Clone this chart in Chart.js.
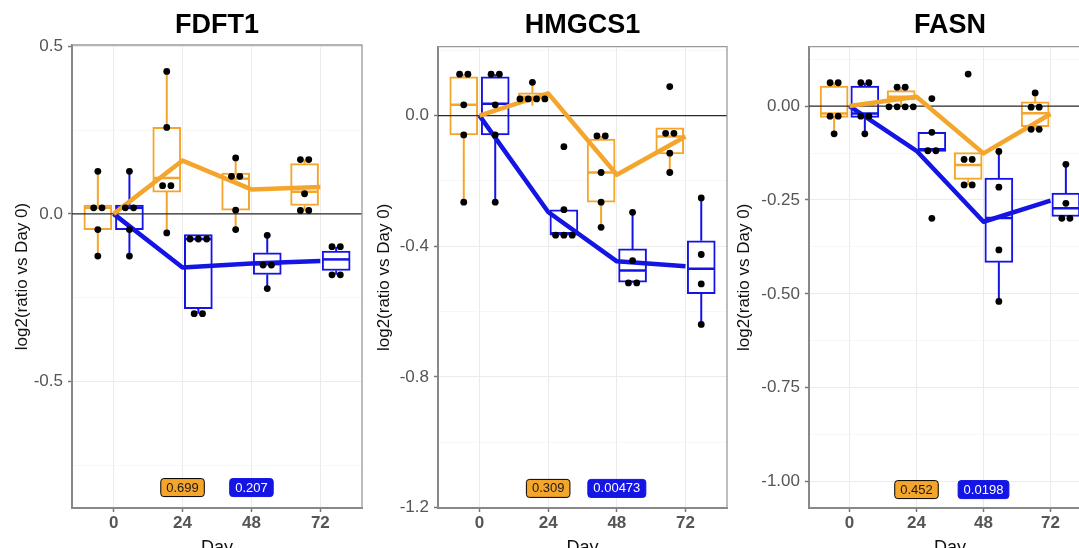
<!DOCTYPE html>
<html>
<head>
<meta charset="utf-8">
<script src="https://cdn.jsdelivr.net/npm/chart.js@4.4.1/dist/chart.umd.min.js"></script>
<style>
html, body { margin: 0; padding: 0; background: #ffffff; overflow: hidden; width: 1079px; height: 548px; }
.panel { position: absolute; top: 0; }
canvas { display: block; }
</style>
</head>
<body>
<div class="panel" style="left:0px"><canvas id="c1" width="366" height="570"></canvas></div>
<div class="panel" style="left:362px"><canvas id="c2" width="369" height="570"></canvas></div>
<div class="panel" style="left:722px"><canvas id="c3" width="373" height="570"></canvas></div>
<script>
// ---------------- data ----------------
const days = [0, 24, 48, 72];
const dayTickLabels = ['0', '24', '48', '72'];
const geneTitles = ['FDFT1', 'HMGCS1', 'FASN'];
const yAxisTitle = 'log2(ratio vs Day 0)';
const xAxisTitle = 'Day';
const pLabelDays = [24, 48];

// box statistics per day: [lower whisker, Q1, median, Q3, upper whisker]
const fdft1OrangeBox = [[-0.126, -0.047, 0.018, 0.026, 0.127], [-0.057, 0.065, 0.107, 0.258, 0.425], [-0.047, 0.011, 0.105, 0.122, 0.167], [0.010, 0.025, 0.066, 0.150, 0.162]];
const fdft1BlueBox   = [[-0.126, -0.047, 0.018, 0.026, 0.127], [-0.298, -0.283, -0.075, -0.062, -0.062], [-0.223, -0.181, -0.150, -0.116, -0.064], [-0.182, -0.169, -0.136, -0.111, -0.098]];
const fdft1OrangeMean = [0, 0.159, 0.073, 0.080];
const fdft1BlueMean   = [0, -0.160, -0.148, -0.141];
const fdft1OrangeDots = [[0.127, 0.018, 0.018, -0.047, -0.126], [0.425, 0.258, 0.084, 0.084, -0.057], [0.167, 0.112, 0.112, 0.011, -0.047], [0.162, 0.162, 0.060, 0.010, 0.010]];
const fdft1BlueDots   = [[0.127, 0.018, 0.018, -0.047, -0.126], [-0.075, -0.075, -0.075, -0.298, -0.298], [-0.064, -0.153, -0.153, -0.223], [-0.098, -0.098, -0.182, -0.182]];
const fdft1PValues = ['0.699', '0.207'];
const fdft1PLabelY = -0.817;
const fdft1YTicks = [0.5, 0.25, 0, -0.25, -0.5, -0.75];
const fdft1YTickLabels = ['0.5', '', '0.0', '', '-0.5', ''];
const fdft1YRange = [-0.878, 0.504];

const hmgcs1OrangeBox = [[-0.265, -0.059, 0.033, 0.119, 0.127], [0.030, 0.051, 0.058, 0.070, 0.102], [-0.342, -0.265, -0.174, -0.072, -0.062], [-0.174, -0.117, -0.064, -0.037, -0.037]];
const hmgcs1BlueBox   = [[-0.265, -0.059, 0.036, 0.119, 0.127], [-0.366, -0.366, -0.360, -0.288, -0.288], [-0.512, -0.510, -0.474, -0.408, -0.296], [-0.639, -0.545, -0.469, -0.383, -0.252]];
const hmgcs1OrangeMean = [0, 0.068, -0.181, -0.064];
const hmgcs1BlueMean   = [0, -0.295, -0.446, -0.461];
const hmgcs1OrangeDots = [[0.127, 0.127, 0.033, -0.059, -0.265], [0.102, 0.051, 0.051, 0.051, 0.051], [-0.062, -0.062, -0.174, -0.265, -0.342], [0.089, -0.054, -0.054, -0.115, -0.174]];
const hmgcs1BlueDots   = [[0.127, 0.127, 0.033, -0.059, -0.265], [-0.095, -0.288, -0.366, -0.366, -0.366], [-0.296, -0.444, -0.512, -0.512], [-0.252, -0.425, -0.515, -0.639]];
const hmgcs1PValues = ['0.309', '0.00473'];
const hmgcs1PLabelY = -1.141;
const hmgcs1YTicks = [0.2, 0, -0.2, -0.4, -0.6, -0.8, -1.0, -1.2];
const hmgcs1YTickLabels = ['', '0.0', '', '-0.4', '', '-0.8', '', '-1.2'];
const hmgcs1YRange = [-1.201, 0.211];

const fasnOrangeBox = [[-0.074, -0.030, -0.020, 0.053, 0.062], [-0.002, 0.016, 0.025, 0.041, 0.050], [-0.210, -0.195, -0.157, -0.124, -0.124], [-0.062, -0.055, -0.019, 0.011, 0.035]];
const fasnBlueBox   = [[-0.074, -0.030, -0.020, 0.053, 0.062], [-0.121, -0.121, -0.115, -0.070, -0.070], [-0.520, -0.416, -0.298, -0.192, -0.121], [-0.294, -0.294, -0.272, -0.232, -0.155]];
const fasnOrangeMean = [0, 0.025, -0.126, -0.021];
const fasnBlueMean   = [0, -0.119, -0.308, -0.252];
const fasnOrangeDots = [[0.062, 0.062, -0.027, -0.027, -0.074], [0.050, 0.050, -0.002, -0.002, -0.002, -0.002], [0.085, -0.142, -0.142, -0.210, -0.210], [0.035, -0.003, -0.003, -0.062, -0.062]];
const fasnBlueDots   = [[0.062, 0.062, -0.027, -0.027, -0.074], [0.020, -0.070, -0.119, -0.119, -0.299], [-0.121, -0.216, -0.383, -0.520], [-0.155, -0.259, -0.299, -0.299]];
const fasnPValues = ['0.452', '0.0198'];
const fasnPLabelY = -1.021;
const fasnYTicks = [0.125, 0, -0.125, -0.25, -0.375, -0.5, -0.625, -0.75, -0.875, -1.0];
const fasnYTickLabels = ['', '0.00', '', '-0.25', '', '-0.50', '', '-0.75', '', '-1.00'];
const fasnYRange = [-1.07, 0.158];

// ---------------- styling / layout ----------------
Chart.defaults.font.family = "'Liberation Sans', Arial, Helvetica, sans-serif";
const ORANGE = '#F4A52B';
const BLUE = '#1414E4';
const X_RANGE = [-14.5, 86.5];
const DODGE = 5.5;
const DOT_STEP = 2.9;
const CANVAS_H = 570;
const CHART_BOTTOM = 508;

const panels = [
  { id: 'c1', title: geneTitles[0], oBox: fdft1OrangeBox, bBox: fdft1BlueBox, oMean: fdft1OrangeMean, bMean: fdft1BlueMean,
    oDots: fdft1OrangeDots, bDots: fdft1BlueDots, pValues: fdft1PValues, pY: fdft1PLabelY,
    yTicks: fdft1YTicks, yLabels: fdft1YTickLabels, yRange: fdft1YRange, yAxisWidth: 72, chartTop: 45 },
  { id: 'c2', title: geneTitles[1], oBox: hmgcs1OrangeBox, bBox: hmgcs1BlueBox, oMean: hmgcs1OrangeMean, bMean: hmgcs1BlueMean,
    oDots: hmgcs1OrangeDots, bDots: hmgcs1BlueDots, pValues: hmgcs1PValues, pY: hmgcs1PLabelY,
    yTicks: hmgcs1YTicks, yLabels: hmgcs1YTickLabels, yRange: hmgcs1YRange, yAxisWidth: 76, chartTop: 46.7 },
  { id: 'c3', title: geneTitles[2], oBox: fasnOrangeBox, bBox: fasnBlueBox, oMean: fasnOrangeMean, bMean: fasnBlueMean,
    oDots: fasnOrangeDots, bDots: fasnBlueDots, pValues: fasnPValues, pY: fasnPLabelY,
    yTicks: fasnYTicks, yLabels: fasnYTickLabels, yRange: fasnYRange, yAxisWidth: 87, chartTop: 46.7 }
];

function boxData(stats, off) { return days.map((d, i) => ({ x: d + off, y: [stats[i][1], stats[i][3]] })); }
function medianData(stats, off) { return days.map((d, i) => ({ x: d + off, y: stats[i][2] })); }
function whiskerData(stats, off) {
  const out = [];
  days.forEach((d, i) => {
    const x = d + off, s = stats[i];
    out.push({ x, y: s[3] }, { x, y: s[4] }, { x, y: null }, { x, y: s[0] }, { x, y: s[1] }, { x, y: null });
  });
  return out;
}
function meanData(means) { return days.map((d, i) => ({ x: d, y: means[i] })); }
function dotData(groups, off) {
  const out = [];
  days.forEach((d, i) => {
    const vals = groups[i];
    const counts = {};
    vals.forEach(v => { counts[v] = (counts[v] || 0) + 1; });
    const seen = {};
    vals.forEach(v => {
      const k = seen[v] || 0;
      seen[v] = k + 1;
      out.push({ x: d + off + (k - (counts[v] - 1) / 2) * DOT_STEP, y: v });
    });
  });
  return out;
}

const framePlugin = {
  id: 'frame',
  afterDatasetsDraw(chart) {
    const { ctx, chartArea: a } = chart;
    ctx.save();
    ctx.strokeStyle = '#9a9a9a';
    ctx.lineWidth = 1.3;
    ctx.beginPath();
    ctx.moveTo(a.left, a.top);
    ctx.lineTo(a.right, a.top);
    ctx.lineTo(a.right, a.bottom);
    ctx.stroke();
    ctx.restore();
  }
};

const pLabelPlugin = {
  id: 'pLabels',
  afterDatasetsDraw(chart, args, opts) {
    const { ctx } = chart;
    const xs = chart.scales.x, ys = chart.scales.y;
    ctx.save();
    ctx.font = "13px 'Liberation Sans', Arial, sans-serif";
    ctx.textAlign = 'center';
    ctx.textBaseline = 'middle';
    opts.texts.forEach((t, i) => {
      const cx = xs.getPixelForValue(opts.days[i]);
      const cy = ys.getPixelForValue(opts.y);
      const w = ctx.measureText(t).width + 11, h = 18;
      ctx.beginPath();
      ctx.roundRect(cx - w / 2, cy - h / 2, w, h, 3);
      ctx.fillStyle = opts.fills[i];
      ctx.fill();
      ctx.lineWidth = 1;
      ctx.strokeStyle = opts.borders[i];
      ctx.stroke();
      ctx.fillStyle = opts.textColors[i];
      ctx.fillText(t, cx, cy + 0.5);
    });
    ctx.restore();
  }
};

function isIn(arr, v) { return arr.findIndex(t => Math.abs(t - v) < 1e-9); }

panels.forEach(p => {
  const majorY = v => { const i = isIn(p.yTicks, v); return i >= 0 && p.yLabels[i] !== ''; };
  const datasets = [
    { type: 'scatter', label: 'orange points', data: dotData(p.oDots, -DODGE), pointRadius: 3.4, pointBackgroundColor: '#000', pointBorderWidth: 0, order: 0 },
    { type: 'scatter', label: 'blue points', data: dotData(p.bDots, DODGE), pointRadius: 3.4, pointBackgroundColor: '#000', pointBorderWidth: 0, order: 0 },
    { type: 'line', label: 'orange mean', data: meanData(p.oMean), borderColor: ORANGE, borderWidth: 4.5, pointRadius: 0, tension: 0, borderJoinStyle: 'round', order: 1 },
    { type: 'line', label: 'blue mean', data: meanData(p.bMean), borderColor: BLUE, borderWidth: 4.5, pointRadius: 0, tension: 0, borderJoinStyle: 'round', order: 1 },
    { type: 'scatter', label: 'orange median', data: medianData(p.oBox, -DODGE), pointStyle: 'line', pointRadius: 13.5, pointBorderColor: ORANGE, pointBorderWidth: 2.5, order: 2 },
    { type: 'scatter', label: 'blue median', data: medianData(p.bBox, DODGE), pointStyle: 'line', pointRadius: 13.5, pointBorderColor: BLUE, pointBorderWidth: 2.5, order: 2 },
    { type: 'line', label: 'zero', data: [{ x: X_RANGE[0], y: 0 }, { x: X_RANGE[1], y: 0 }], borderColor: '#2a2a2a', borderWidth: 1.2, pointRadius: 0, order: 3 },
    { type: 'bar', label: 'orange box', data: boxData(p.oBox, -DODGE), backgroundColor: '#ffffff', borderColor: ORANGE, borderWidth: 2, borderSkipped: false, barThickness: 28, grouped: false, order: 4 },
    { type: 'bar', label: 'blue box', data: boxData(p.bBox, DODGE), backgroundColor: '#ffffff', borderColor: BLUE, borderWidth: 2, borderSkipped: false, barThickness: 28, grouped: false, order: 4 },
    { type: 'line', label: 'orange whisker', data: whiskerData(p.oBox, -DODGE), borderColor: ORANGE, borderWidth: 2, pointRadius: 0, spanGaps: false, order: 5 },
    { type: 'line', label: 'blue whisker', data: whiskerData(p.bBox, DODGE), borderColor: BLUE, borderWidth: 2, pointRadius: 0, spanGaps: false, order: 5 }
  ];
  new Chart(document.getElementById(p.id), {
    type: 'bar',
    data: { datasets },
    plugins: [framePlugin, pLabelPlugin],
    options: {
      responsive: false,
      animation: false,
      events: [],
      devicePixelRatio: 1,
      layout: { autoPadding: false, padding: { left: 0, right: 4, top: 0, bottom: 0 } },
      plugins: {
        legend: { display: false },
        tooltip: { enabled: false },
        title: {
          display: true, text: p.title, fullSize: false, color: '#000',
          font: { size: 27, weight: 'bold', lineHeight: 1 },
          padding: { top: 12, bottom: p.chartTop - 39 }
        },
        pLabels: {
          texts: p.pValues, days: pLabelDays, y: p.pY,
          fills: [ORANGE, BLUE], borders: ['#000', BLUE], textColors: ['#1a1a1a', '#ffffff']
        }
      },
      scales: {
        x: {
          type: 'linear', min: X_RANGE[0], max: X_RANGE[1], offset: false,
          afterBuildTicks: s => { s.ticks = days.map(v => ({ value: v })); },
          afterFit: s => { s.height = CANVAS_H - CHART_BOTTOM; },
          ticks: { autoSkip: false, maxRotation: 0, padding: 1, color: '#555', font: { size: 17, weight: 'bold' },
                   callback: v => { const i = isIn(days, v); return i >= 0 ? dayTickLabels[i] : ''; } },
          grid: { offset: false, color: '#EBEBEB', lineWidth: 1, tickLength: 4, tickColor: '#777', tickWidth: 1.5 },
          border: { color: '#888', width: 2 },
          title: { display: true, text: xAxisTitle, color: '#111', font: { size: 18, lineHeight: 1.2 }, padding: { top: 0, bottom: 11 } }
        },
        y: {
          type: 'linear', min: p.yRange[0], max: p.yRange[1],
          afterBuildTicks: s => { s.ticks = p.yTicks.map(v => ({ value: v })); },
          afterFit: s => { s.width = p.yAxisWidth; },
          ticks: { autoSkip: false, padding: 5, color: '#555', font: { size: 17 },
                   callback: v => { const i = isIn(p.yTicks, v); return i >= 0 ? p.yLabels[i] : ''; } },
          grid: {
            color: c => (c.tick && majorY(c.tick.value)) ? '#EBEBEB' : '#F3F3F3',
            lineWidth: c => (c.tick && majorY(c.tick.value)) ? 1 : 0.7,
            tickLength: 4,
            tickWidth: 1.5,
            tickColor: c => (c.tick && majorY(c.tick.value)) ? '#777' : 'rgba(0,0,0,0)'
          },
          border: { color: '#888', width: 2 },
          title: { display: true, text: yAxisTitle, color: '#111', font: { size: 17, lineHeight: 1.2 }, padding: { top: 12, bottom: 0 } }
        }
      }
    }
  });
});
</script>
</body>
</html>
